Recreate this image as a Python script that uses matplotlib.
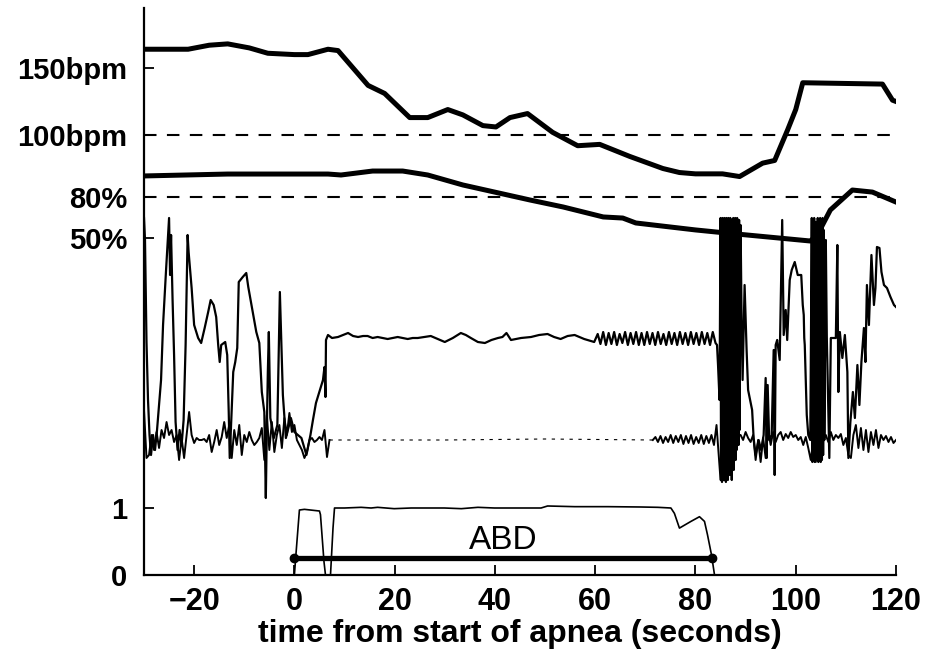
import numpy as np
import matplotlib
matplotlib.use("Agg")
import matplotlib.pyplot as plt

plt.rcParams['font.family'] = ['Liberation Sans', 'DejaVu Sans']
plt.rcParams['font.weight'] = 'bold'

# heart rate (bpm)
hr_t = [-30, -21.2, -17.0, -13.3, -9.0, -5.3, 0.0, 2.7, 6.7, 8.7, 14.7, 18.0, 23.0, 26.6,
        30.6, 33.6, 37.6, 40.2, 43.0, 46.5, 51.5, 56.5, 60.9, 66.9, 73.5, 76.8, 80.0,
        85.4, 88.8, 93.4, 95.8, 98.4, 100.0, 101.4, 117.3, 119.3, 120]
hr_bpm = [164, 164, 167, 168, 165, 161, 160, 160, 164, 163, 137, 131, 113, 113,
          119, 115, 107, 106, 113, 116, 102, 92, 93, 84, 75, 72, 71,
          71, 69, 79, 81, 104, 119, 139, 138, 126, 125]

# oxygen saturation (%)
spo2_t = [-30, -13.3, 6.7, 9.3, 15.6, 21.6, 26.6, 33.6, 47.0, 53.6, 61.6, 65.5, 68.1,
          80.0, 86.0, 102.9, 104.3, 106.9, 111.3, 115.3, 120]
spo2_pct = [95.4, 96.8, 96.8, 96.1, 99.0, 99.0, 96.1, 88.8, 77.8, 72.7, 65.4, 64.6, 61.0,
            55.9, 53.7, 47.8, 52.2, 70.5, 85.1, 83.6, 76.3]

# abdominal effort (normalised)
abd_t = [-30, 0.0, 0.3, 1.0, 2.0, 5.0, 5.2, 5.9, 6.2, 7.2, 7.7, 8.0, 10.0, 13.3, 15.3,
         16.6, 19.9, 23.3, 26.6, 29.9, 33.3, 36.6, 39.9, 44.5, 49.2, 50.5, 55.9, 62.5,
         69.1, 72.5, 75.1, 75.8, 76.8, 79.1, 80.8, 81.8, 82.4, 83.2, 83.8, 120]
abd_v = [0, 0, 0.3, 0.97, 0.98, 0.955, 0.9, 0.2, 0, 0, 0.7, 1.0, 1.0, 1.01, 1.0,
         1.01, 0.99, 1.0, 1.0, 1.0, 0.99, 1.01, 1.0, 1.0, 1.0, 1.03, 1.02, 1.02,
         1.015, 1.01, 1.0, 0.92, 0.70, 0.80, 0.87, 0.80, 0.6, 0.30, 0, 0]
abd_event = [0, 83.3]

# upper respiratory trace (arbitrary units)
a_pre_t = [-30.0, -29.8, -29.5, -29.2, -28.9, -28.6, -28.2, -27.8, -27.4, -27.0, -26.6,
           -26.2, -25.6, -25.0, -24.8, -24.6, -24.3, -24.0, -23.7, -23.3, -22.9, -22.5,
           -22.1, -21.7, -21.3, -21.1, -20.5, -20.0, -19.2, -18.6, -17.9, -17.2, -16.7,
           -16.1, -15.6, -15.2, -14.9, -14.6, -13.8, -13.4, -13.1, -12.9, -12.5, -12.2,
           -11.8, -11.4, -11.1, -10.3, -9.6, -9.2, -8.3, -7.6, -7.0, -6.5, -6.0, -5.7,
           -5.5, -5.3, -5.1, -4.8, -4.1, -3.4, -2.9, -2.6, -2.3, -1.7, -0.7, 0.0, 1.4,
           2.4, 3.2, 3.7, 4.3, 4.9, 5.7, 6.0, 6.2, 6.3]
a_pre_v = [2.22, 2.00, 0.98, 0.40, 0.05, -0.15, 0.05, -0.10, 0.10, 0.35, 0.60,
           1.15, 1.70, 2.22, 1.65, 2.05, 1.40, 0.85, 0.18, -0.10, 0.10, -0.05,
           0.20, 0.95, 2.05, 1.88, 1.52, 1.15, 1.02, 0.97, 1.12, 1.28, 1.40,
           1.35, 1.23, 0.95, 0.78, 0.95, 0.98, 0.85, 0.28, -0.18, 0.30, 0.68,
           0.78, 0.92, 1.58, 1.63, 1.67, 1.53, 1.28, 1.08, 0.97, 0.48, 0.28, -0.58,
           0.10, 0.68, 1.08, 0.22, 0.02, 0.15, 1.48, 0.95, 0.45, 0.02, 0.22, 0.08, 0.02,
           -0.15, 0.05, 0.20, 0.37, 0.47, 0.60, 0.73, 0.43, 1.00]
a_apnea_t = [6.7, 7.5, 8.7, 9.7, 10.7, 11.7, 12.7, 13.7, 14.6, 15.6, 16.6, 17.6, 18.6,
             19.6, 20.6, 21.6, 22.6, 23.6, 24.6, 25.9, 27.2, 28.6, 30.0, 31.6, 33.2,
             34.2, 35.2, 36.6, 38.0, 39.3, 40.6, 41.5, 42.3, 43.2, 45.2, 47.2, 48.8,
             50.5, 51.8, 53.1, 54.5, 55.9, 57.8, 59.8]
a_apnea_v = [1.05, 1.02, 1.03, 1.05, 1.07, 1.04, 1.03, 1.04, 1.04, 1.02, 1.03, 1.02, 1.01,
             1.02, 1.03, 1.02, 1.01, 1.02, 1.02, 1.03, 1.04, 1.01, 0.98, 1.02, 1.07,
             1.05, 1.02, 0.98, 0.97, 1.00, 1.02, 1.03, 1.07, 1.00, 1.02, 1.03, 1.05,
             1.06, 1.03, 1.01, 1.04, 1.05, 1.01, 0.98]
a_ripple_v = [1.06, 0.96, 1.08, 0.95, 1.07, 0.96, 1.08, 0.95, 1.06, 0.97, 1.08, 0.95,
              1.07, 0.96, 1.08, 0.95, 1.07, 0.95, 1.08, 0.96, 1.07, 0.95, 1.08, 0.96,
              1.06, 0.95, 1.08, 0.96, 1.07, 0.95, 1.08, 0.96, 1.07, 0.95, 1.08, 0.96,
              1.07, 0.95, 1.08, 0.96, 1.07, 0.95, 1.08, 0.97]
a_drop_t = [84.3, 84.5, 84.8]
a_drop_v = [0.95, 0.75, 0.40]
a_band1_v = [2.22, -0.40, 2.20, -0.42, 2.22, -0.35, 2.18, -0.40, 2.22, -0.30, 2.15, -0.42,
             2.22, -0.38, 2.20, -0.40, 2.22, -0.25, 2.10, -0.35, 2.22, -0.30, 2.20, -0.40,
             2.18, -0.20, 2.22, -0.30, 2.00, -0.15, 2.22, -0.20, 2.10, -0.10, 2.22, 0.00,
             2.15, -0.05, 2.20, 0.10]
a_mid_t = [89.0, 89.2, 89.4, 89.8, 90.2, 90.5, 90.9, 91.3, 91.6, 92.0, 92.6, 93.1, 93.6,
           94.0, 94.2, 94.4, 94.7, 95.2, 95.6, 95.8, 96.0, 96.3, 96.8, 97.3, 97.6, 98.0,
           98.3, 98.8, 99.2, 99.8, 100.4, 101.1, 101.4, 101.6, 101.7, 101.8, 102.2,
           102.5, 102.9]
a_mid_v = [2.15, 1.2, 0.6, 1.55, 0.9, 0.5, 0.40, 0.30, 0.02, -0.15, 0.0, -0.1, 0.05,
           0.62, -0.18, 0.55, 0.0, 0.05, 0.90, -0.35, 0.95, 1.00, 0.80, 2.20, 1.05, 1.30,
           1.00, 1.60, 1.70, 1.78, 1.65, 1.65, 1.35, 1.25, 1.02, 0.95, 0.25,
           0.05, 0.0]
a_band2_v = [2.22, -0.22, 2.20, -0.20, 2.22, -0.22, 2.18, -0.15, 1.0, 0.6, 2.22, -0.22,
             2.20, -0.20, 2.22, -0.22, 2.18, -0.20, 2.22, -0.15, 2.10, 0.0]
a_end_t = [106.0, 106.2, 106.7, 107.0, 108.0, 108.3, 108.5, 108.8, 109.3, 109.8, 110.3,
           110.5, 110.9, 111.4, 111.8, 112.3, 112.7, 113.1, 113.6, 113.9, 114.2, 114.6,
           115.1, 115.6, 115.9, 116.2, 116.7, 117.1, 117.6, 118.2, 118.9, 119.6, 120.0]
a_end_v = [2.0, 1.02, -0.18, 1.02, 1.02, 1.95, 0.48, 1.08, 0.82, 1.05, 0.68,
           -0.18, 0.18, 0.48, 0.22, 0.75, 0.35, 0.78, 1.12, 0.78, 1.55, 1.15,
           1.85, 1.35, 1.52, 1.93, 1.92, 1.68, 1.55, 1.52, 1.43, 1.35, 1.33]

# lower respiratory trace (arbitrary units)
b_pre_v = [0.30, -0.18, -0.15, 0.05, -0.10, 0.08, -0.08, 0.10, 0.02, 0.18, 0.05, 0.10,
           -0.02, 0.05, -0.20, 0.02, -0.18, 0.05, 0.28, 0.05, -0.03, 0.02, 0.0, 0.0,
           0.01, -0.02, 0.05, -0.12, -0.02, 0.10, -0.05, 0.03, 0.18, 0.02, 0.15, -0.18,
           0.10, -0.05, 0.15, -0.15, 0.05, -0.02, 0.08, 0.0, -0.05, -0.02, 0.02, 0.12,
           -0.20, 0.25, -0.10, 0.18, -0.12, 0.05, 0.15, -0.08, 0.22, 0.05, 0.27, 0.08,
           0.15, 0.0, -0.05, -0.10, -0.18, -0.12, 0.0, 0.02, -0.02, 0.0, 0.03, 0.0,
           0.10, -0.17, 0.0]
b_quiet_t = [7.0, 30.0, 50.0, 71.5]
b_quiet_v = [0.0, 0.0, 0.01, 0.0]
b_late_v = [0.0, 0.03, -0.02, 0.04, -0.03, 0.03, -0.02, 0.05, -0.03, 0.04, -0.02, 0.05,
            -0.04, 0.04, -0.03, 0.05, -0.04, 0.03, -0.03, 0.05, -0.04, 0.04, -0.03, 0.05,
            -0.05, 0.15]
b_post_v = [-0.4, -0.3, 0.0, -0.35, 0.05, -0.2, 0.0, 0.05,
            0.05, 0.0, 0.08, 0.02, -0.02, 0.05,
            -0.2, 0.0, -0.22, 0.02, -0.18, 0.10, -0.05, 0.08, -0.02, 0.05, 0.08, 0.0,
            0.06, 0.02, 0.08, 0.03, 0.05, 0.0, 0.03, -0.05, 0.03, -0.08, -0.2, 0.0,
            -0.22, -0.05, -0.2, 0.0, 0.05, -0.02, 0.08, 0.0, 0.05, 0.02, 0.06, -0.05,
            0.02, -0.15, -0.18, 0.05, 0.15, -0.08, 0.12, -0.1, 0.10, -0.12, 0.08, -0.05,
            0.1, -0.08, 0.05, 0.0, 0.04, -0.02, 0.03, -0.03, 0.0]


# each signal gets its own strip on one shared vertical axis
def hr_y(b):
    return 440 + (np.asarray(b, float) - 100) * 1.34


def spo2_y(s):
    return 337 + (np.asarray(s, float) - 50) * 41 / 30


def abd_y(a):
    return 67 * np.asarray(a, float)


def trace_y(v):
    return 135 + 100 * np.asarray(v, float)


a_t = np.concatenate([a_pre_t, a_apnea_t, np.linspace(60.5, 84.0, len(a_ripple_v)), a_drop_t,
                      np.linspace(85.0, 88.8, len(a_band1_v)), a_mid_t,
                      np.linspace(103.2, 105.7, len(a_band2_v)), a_end_t])
a_v = np.concatenate([a_pre_v, a_apnea_v, a_ripple_v, a_drop_v, a_band1_v, a_mid_v,
                      a_band2_v, a_end_v])
b_pre_t = np.linspace(-30, 7, len(b_pre_v))
b_late_t = np.concatenate([np.linspace(71.5, 84.2, len(b_late_v)),
                           np.linspace(85.0, 120.0, len(b_post_v))])
b_late_all = np.concatenate([b_late_v, b_post_v])

fig = plt.figure(figsize=(9.3, 6.49), dpi=100)
ax = fig.add_axes([144 / 930, 74 / 649, 752 / 930, 567 / 649])

ax.plot(b_pre_t, trace_y(b_pre_v), color='k', lw=1.4)
ax.plot(b_quiet_t, trace_y(b_quiet_v), color='k', lw=0.8, ls=(0, (3, 5)))
ax.plot(b_late_t, trace_y(b_late_all), color='k', lw=1.4)
ax.plot(a_t, trace_y(a_v), color='k', lw=1.6)

ax.axhline(hr_y(100), color='k', lw=1.5, ls=(0, (6, 5)))
ax.axhline(spo2_y(80), color='k', lw=1.5, ls=(0, (6, 5)))
ax.plot(hr_t, hr_y(hr_bpm), color='k', lw=3.6, solid_joinstyle='round')
ax.plot(spo2_t, spo2_y(spo2_pct), color='k', lw=3.6, solid_joinstyle='round')

ax.plot(abd_t, abd_y(abd_v), color='k', lw=1.2)
ax.plot(abd_event, abd_y([0.25, 0.25]), color='k', lw=3.8, marker='o', ms=6,
        solid_capstyle='butt')
ax.text(np.mean(abd_event), abd_y(0.51), 'ABD', ha='center', va='center',
        fontsize=24, fontweight='normal')

ax.set_xlim(-30, 120)
ax.set_ylim(0, 567)
ax.set_xticks([-20, 0, 20, 40, 60, 80, 100, 120])
ax.set_xticklabels(['\u221220', '0', '20', '40', '60', '80', '100', '120'])
ax.set_yticks([abd_y(0), abd_y(1), spo2_y(50), spo2_y(80), hr_y(100), hr_y(150)])
ax.set_yticklabels(['0', '1', '50%', '80%', '100bpm', '150bpm'])
ax.tick_params(direction='in', length=7, width=1.3)
ax.tick_params(axis='y', pad=12, labelsize=21)
ax.tick_params(axis='x', pad=9, labelsize=22)
for s in ['top', 'right']:
    ax.spines[s].set_visible(False)
for s in ['left', 'bottom']:
    ax.spines[s].set_linewidth(1.6)
ax.set_xlabel('time from start of apnea (seconds)', fontsize=23, fontweight='bold',
              labelpad=1)

fig.savefig('out.png', dpi=100)
